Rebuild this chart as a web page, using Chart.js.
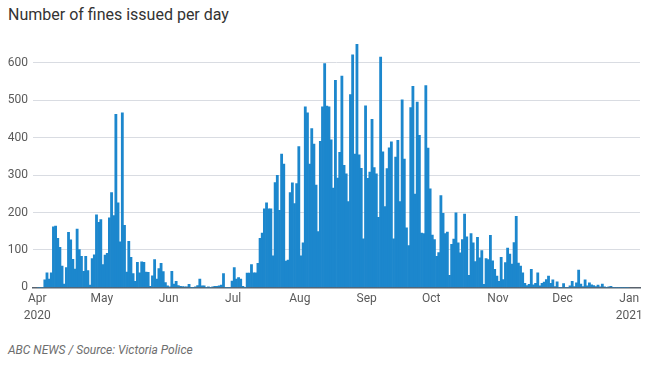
<!DOCTYPE html>
<html lang="en">
<head>
<meta charset="utf-8">
<title>Number of fines issued per day</title>
<script src="https://cdn.jsdelivr.net/npm/chart.js@4.4.1/dist/chart.umd.min.js"></script>
<style>
  body { margin: 0; background: #fff; font-family: Roboto, "Noto Sans", sans-serif; }
  #wrap { position: relative; width: 654px; height: 369px; overflow: hidden; }
  #title { position: absolute; left: 8px; top: 5px; font-size: 16px; color: #333; }
  #source { position: absolute; left: 8px; top: 343px; font-size: 12px; font-style: italic; color: #6e6e6e; }
  #chart { position: absolute; left: 0; top: 30px; }
</style>
</head>
<body>
<div id="wrap">
  <div id="title">Number of fines issued per day</div>
  <canvas id="chart" width="654" height="297"></canvas>
  <div id="source">ABC NEWS / Source: Victoria Police</div>
</div>
<script>
// Day 0 is 1 April 2020
const monthStarts = [0, 30, 61, 91, 122, 153, 183, 214, 244, 275];
const monthLabels = [
  ["Apr", "2020"], "May", "Jun", "Jul", "Aug", "Sep", "Oct", "Nov", "Dec", ["Jan", "2021"],
];
const yTicks = [0, 100, 200, 300, 400, 500, 600];

// Fines per day
const finesPerDay = [
  // Apr
  0, 0, 0, 20, 39, 22, 39, 162, 164, 131, 107, 57, 9, 53, 147,
  127, 75, 49, 156, 101, 83, 43, 83, 45, 6, 77, 87, 194, 174, 181,
  // May
  61, 86, 91, 186, 253, 192, 462, 226, 122, 466, 166, 41, 123, 80, 37, 16,
  67, 39, 68, 67, 41, 40, 3, 31, 74, 22, 50, 64, 42, 13, 4,
  // Jun
  1, 43, 9, 16, 5, 3, 2, 1, 1, 8, 0, 0, 1, 5, 22,
  4, 4, 0, 1, 0, 1, 3, 3, 4, 6, 37, 0, 0, 0, 17,
  // Jul
  53, 22, 26, 22, 3, 0, 38, 38, 61, 39, 39, 64, 131, 145, 210, 226,
  210, 210, 84, 280, 299, 206, 356, 329, 70, 73, 253, 279, 224, 277, 376,
  // Aug
  84, 119, 482, 466, 329, 424, 383, 273, 149, 390, 482, 598, 484, 482, 394, 265,
  553, 292, 361, 564, 326, 303, 229, 515, 621, 356, 651, 354, 318, 130, 485,
  // Sep
  291, 308, 449, 320, 303, 187, 615, 362, 216, 317, 373, 389, 130, 348, 393,
  229, 501, 343, 159, 112, 480, 537, 249, 495, 406, 145, 144, 539, 372, 263,
  // Oct
  140, 128, 83, 93, 245, 198, 144, 148, 32, 115, 129, 199, 119, 92, 128, 196,
  135, 32, 144, 119, 69, 134, 79, 98, 8, 77, 74, 139, 71, 48, 30,
  // Nov
  16, 80, 21, 66, 105, 89, 62, 120, 190, 65, 57, 39, 11, 5, 8,
  48, 7, 11, 39, 4, 11, 14, 21, 30, 11, 20, 2, 15, 0, 0,
  // Dec
  10, 0, 0, 4, 16, 2, 12, 46, 9, 2, 20, 4, 12, 7, 5, 2,
  6, 1, 9, 1, 0, 1, 3, 0, 0, 0, 0, 0, 0, 0, 0,
];

const barColor = "#1c87cd";
const labelColor = "#5a5a5a";
const gridColor = "#d9dce2";

/**
 * Build the daily fines bar chart
 */
function buildChart() {
  const ctx = document.getElementById("chart").getContext("2d");

  // each bar spans its whole day
  const points = finesPerDay.map((v, i) => ({ x: i + 0.5, y: v }));

  return new Chart(ctx, {
    type: "bar",
    data: {
      datasets: [
        {
          data: points,
          backgroundColor: barColor,
          borderWidth: 0,
          barPercentage: 1,
          categoryPercentage: 1,
        },
      ],
    },
    options: {
      responsive: false,
      animation: false,
      layout: { padding: { top: 14, right: 14, bottom: 0, left: 0 } },
      plugins: {
        legend: { display: false },
        tooltip: { enabled: false },
      },
      scales: {
        x: {
          type: "linear",
          offset: false,
          min: -2,
          max: 280,
          grid: { display: false, drawTicks: false },
          border: { display: true, color: "#59626d", width: 1.5 },
          afterBuildTicks: (scale) => {
            scale.ticks = monthStarts.map((v) => ({ value: v }));
          },
          ticks: {
            autoSkip: false,
            maxRotation: 0,
            padding: 3,
            color: labelColor,
            font: { family: "Roboto", size: 12, lineHeight: 1.4 },
            callback: (v) => monthLabels[monthStarts.indexOf(v)],
          },
        },
        y: {
          min: 0,
          max: 650,
          afterFit: (scale) => {
            scale.width = 33;
          },
          afterBuildTicks: (scale) => {
            scale.ticks = yTicks.map((v) => ({ value: v }));
          },
          grid: { color: gridColor, drawTicks: false },
          border: { display: false },
          ticks: {
            padding: 5,
            color: labelColor,
            font: { family: "Roboto", size: 12 },
          },
        },
      },
    },
  });
}

const finesChart = buildChart();
</script>
</body>
</html>
